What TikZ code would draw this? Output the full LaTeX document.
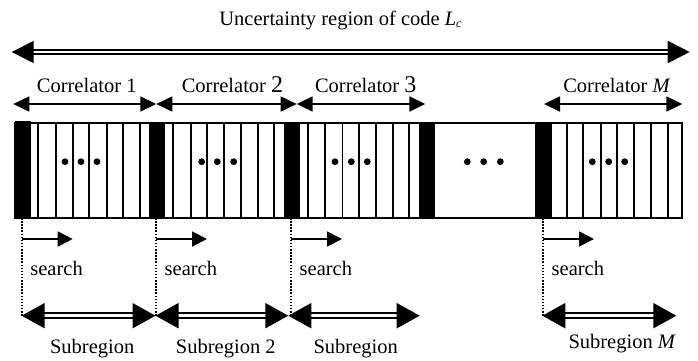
\documentclass[tikz,border=0pt]{standalone}
\usepackage{fontspec}
\setmainfont{Liberation Serif}
\usetikzlibrary{arrows.meta}
\begin{document}
\begin{tikzpicture}[x=1pt,y=-1pt,
  lbl/.style={inner sep=0pt,font=\fontsize{20.5}{24}\selectfont},
  big/.style={double,line width=1.7pt,double distance=2pt,
     {Triangle[length=22pt,width=22pt]}-{Triangle[length=22pt,width=22pt]}},
  subarr/.style={double,line width=2pt,double distance=3pt,
     {Triangle[length=23pt,width=25pt]}-{Triangle[length=23pt,width=25pt]}},
  corarr/.style={line width=1.8pt,{Triangle[length=16pt,width=15pt]}-{Triangle[length=16pt,width=15pt]}},
  srcharr/.style={line width=1.8pt,-{Triangle[length=15pt,width=15pt]}},
  dotline/.style={line width=1.6pt,dash pattern=on 1.5pt off 1.6pt},
  stripe/.style={line width=1.9pt},
  blk/.style={fill=black,draw=black,line width=1pt},
  bullet/.style={fill=black,draw=none}]
\useasboundingbox (0,0) rectangle (698,360);

% title and big arrow
\node[lbl,anchor=base] (title) at (340.5,25) {Uncertainty region of code \textit{L}\raisebox{-0.25ex}{\fontsize{12}{14}\selectfont\textit{c}}};
\coordinate (bigL) at (11.7,52);
\coordinate (bigR) at (689.7,52);
\draw[big] (bigL) -- (bigR);

% correlator labels
\node[lbl,anchor=base] (c1) at (86.7,92) {Correlator 1};
\node[lbl,anchor=base] (c2) at (232.5,92) {Correlator {\fontsize{24}{26}\selectfont 2}};
\node[lbl,anchor=base] (c3) at (365.7,92) {Correlator {\fontsize{24}{26}\selectfont 3}};
\node[lbl,anchor=base] (cM) at (617,92) {Correlator \textit{M}};

% correlator arrows
\coordinate (a0) at (13.3,104);
\coordinate (a1) at (156.3,104);
\coordinate (a2) at (296.7,104);
\coordinate (a3) at (425.3,104);
\coordinate (a4) at (544,104);
\coordinate (a5) at (682.3,104);
\draw[corarr] (a0) -- (a1);
\draw[corarr] (a1) -- (a2);
\draw[corarr] (a2) -- (a3);
\draw[corarr] (a4) -- (a5);

% bar
\draw[line width=1.5pt] (15,123) rectangle (682,218);
\foreach \x in {38.3,55.7,72.7,89.3,106.7,123.3,140,
                173.3,190.7,207.3,224,241,258.3,274.3,
                308.3,325,342.5,359,376,392.7,409.3,
                566.7,583.3,600.7,617.3,634,651,668.3}
  \draw[stripe] (\x,123) -- (\x,218);
\draw[blk] (15,121) rectangle (30.7,216);
\foreach \x in {149,284,419,535.7}
  \draw[blk] (\x,123) rectangle (\x+15.3,218);
\foreach \x in {65,81,97,201.7,217.3,233.7,335,351.3,367.3,467.3,483.7,500.3,592.3,608.7,624.7}
  \fill[bullet] (\x,161.7) circle (3.4pt);

% dotted lines, search arrows, labels
\foreach \i/\x in {1/21.7,2/156,3/291,4/543}{
  \coordinate (d\i) at (\x,218);
  \coordinate (e\i) at (\x,315.7);
  \coordinate (s\i) at (\x,239);
  \coordinate (t\i) at (\x+51,239);
  \draw[dotline] (d\i) -- (e\i);
  \draw[srcharr] (s\i) -- (t\i);
  \node[lbl,anchor=base west] (search\i) at (\x+8.5,275) {search};
}

% subregion arrows
\coordinate (r1) at (21.7,315.7);
\coordinate (r2) at (155.5,315.7);
\coordinate (r3) at (288.3,315.7);
\coordinate (r4) at (419.7,315.7);
\coordinate (r5) at (542.3,315.7);
\coordinate (r6) at (676.3,315.7);
\draw[subarr] (r1) -- (r2);
\draw[subarr] (r2) -- (r3);
\draw[subarr] (r3) -- (r4);
\draw[subarr] (r5) -- (r6);

\node[lbl,anchor=base] (sub1) at (92.2,353) {Subregion};
\node[lbl,anchor=base] (sub2) at (225.8,353) {Subregion 2};
\node[lbl,anchor=base] (sub3) at (355.7,353) {Subregion};
\node[lbl,anchor=base] (subM) at (622.2,348.5) {Subregion \textit{M}};
\end{tikzpicture}
\end{document}
